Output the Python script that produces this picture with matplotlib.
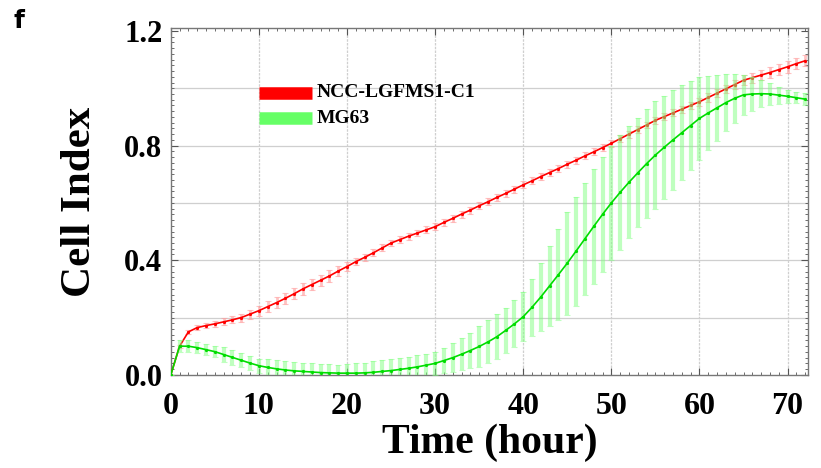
import matplotlib
matplotlib.use("Agg")
import matplotlib.pyplot as plt
import numpy as np
from matplotlib.ticker import MultipleLocator

hours = list(range(0, 73))

red_ci = [0.0, 0.10, 0.15, 0.165, 0.172, 0.178, 0.185, 0.192, 0.200, 0.212,
          0.224, 0.238, 0.252, 0.267, 0.283, 0.300, 0.315, 0.330, 0.345, 0.362,
          0.378, 0.395, 0.410, 0.426, 0.443, 0.460, 0.472, 0.484, 0.495, 0.506,
          0.517, 0.532, 0.546, 0.561, 0.575, 0.590, 0.604, 0.619, 0.633, 0.648,
          0.663, 0.677, 0.692, 0.706, 0.720, 0.735, 0.749, 0.764, 0.778, 0.793,
          0.808, 0.824, 0.840, 0.856, 0.872, 0.888, 0.901, 0.914, 0.927, 0.940,
          0.953, 0.968, 0.983, 0.998, 1.013, 1.028, 1.037, 1.046, 1.055, 1.065,
          1.075, 1.086, 1.096]
red_err = [0.0, 0.005, 0.008, 0.01, 0.01, 0.01, 0.012, 0.012, 0.014, 0.016,
           0.018, 0.02, 0.02, 0.02, 0.02, 0.02, 0.02, 0.02, 0.02, 0.018,
           0.015, 0.012, 0.012, 0.012, 0.012, 0.012, 0.012, 0.012, 0.012, 0.012,
           0.012, 0.012, 0.012, 0.012, 0.012, 0.012, 0.012, 0.012, 0.012, 0.012,
           0.012, 0.012, 0.012, 0.012, 0.012, 0.012, 0.012, 0.012, 0.012, 0.012,
           0.012, 0.012, 0.012, 0.012, 0.012, 0.012, 0.012, 0.012, 0.012, 0.012,
           0.014, 0.015, 0.015, 0.015, 0.016, 0.017, 0.018, 0.018, 0.019, 0.02,
           0.02, 0.02, 0.02]

green_ci = [0.0, 0.100, 0.100, 0.095, 0.088, 0.081, 0.071, 0.061, 0.051, 0.041,
            0.032, 0.026, 0.021, 0.017, 0.014, 0.012, 0.010, 0.008, 0.007, 0.006,
            0.006, 0.006, 0.007, 0.009, 0.012, 0.015, 0.019, 0.023, 0.028, 0.034,
            0.040, 0.050, 0.060, 0.072, 0.085, 0.099, 0.115, 0.133, 0.155, 0.178,
            0.203, 0.236, 0.272, 0.311, 0.350, 0.390, 0.432, 0.475, 0.518, 0.560,
            0.600, 0.637, 0.672, 0.705, 0.737, 0.767, 0.794, 0.820, 0.845, 0.870,
            0.895, 0.914, 0.932, 0.950, 0.965, 0.977, 0.980, 0.981, 0.980, 0.976,
            0.972, 0.967, 0.962]
green_err = [0.0, 0.02, 0.02, 0.02, 0.02, 0.02, 0.025, 0.025, 0.025, 0.025,
             0.025, 0.03, 0.03, 0.03, 0.03, 0.03, 0.03, 0.03, 0.03, 0.03,
             0.032, 0.035, 0.035, 0.038, 0.04, 0.04, 0.04, 0.04, 0.04, 0.04,
             0.04, 0.045, 0.05, 0.055, 0.062, 0.07, 0.075, 0.078, 0.08, 0.082,
             0.085, 0.10, 0.12, 0.14, 0.16, 0.18, 0.19, 0.195, 0.2, 0.2,
             0.2, 0.2, 0.195, 0.19, 0.19, 0.19, 0.18, 0.175, 0.165, 0.155,
             0.145, 0.13, 0.115, 0.10, 0.085, 0.07, 0.058, 0.047, 0.037, 0.03,
             0.022, 0.02, 0.02]

series_labels = ["NCC-LGFMS1-C1", "MG63"]
xticks = [0, 10, 20, 30, 40, 50, 60, 70]
yticks = [0.0, 0.4, 0.8, 1.2]

serif = ["Liberation Serif", "DejaVu Serif"]

fig = plt.figure(figsize=(8.21, 4.68), dpi=100)
ax = fig.add_axes([0.208, 0.199, 0.776, 0.741])

# grid
for gx in range(10, 80, 10):
    ax.axvline(gx, color="#cfcfcf", lw=0.9, ls=(0, (2, 1)), zorder=0)
for gy in np.arange(0.2, 1.2, 0.2):
    ax.axhline(gy, color="#cfcfcf", lw=0.9, zorder=0)

ax.errorbar(hours, red_ci, yerr=red_err, fmt="none", ecolor="#ff9a9a",
            elinewidth=2.0, capsize=2.5, capthick=0.8, alpha=0.6, zorder=2)
ax.plot(hours, red_ci, color="#ff0000", lw=1.2, marker="o", ms=1.3, zorder=3)
ax.errorbar(hours, green_ci, yerr=green_err, fmt="none", ecolor="#80ff80",
            elinewidth=3.0, capsize=2.5, capthick=0.8, alpha=0.5, zorder=4)
ax.plot(hours, green_ci, color="#00dd00", lw=1.2, marker="o", ms=1.3, zorder=5)

# legend
ax.plot([10.0, 16.0], [0.985, 0.985], color="#ff0000", lw=9, solid_capstyle="butt", zorder=6)
ax.plot([10.0, 16.0], [0.895, 0.895], color="#66ff66", lw=9, solid_capstyle="butt", zorder=6)
ax.text(16.6, 0.985, series_labels[0], family=serif, fontweight="bold",
        fontsize=14, va="center", ha="left", zorder=7)
ax.text(16.6, 0.895, series_labels[1], family=serif, fontweight="bold",
        fontsize=14, va="center", ha="left", zorder=7)

ax.set_xlim(0, 72.3)
ax.set_ylim(0, 1.21)
ax.set_xticks(xticks)
ax.set_yticks(yticks)
ax.set_xticklabels([str(v) for v in xticks], family=serif, fontweight="bold", fontsize=23)
ax.set_yticklabels([f"{v:.1f}" for v in yticks], family=serif, fontweight="bold", fontsize=22)
ax.xaxis.set_minor_locator(MultipleLocator(1))
ax.yaxis.set_minor_locator(MultipleLocator(0.02))
ax.tick_params(which="both", direction="in", top=True, right=True, color="#555555")
ax.tick_params(which="major", length=5, width=0.8)
ax.tick_params(axis="x", which="major", pad=12)
ax.tick_params(axis="y", which="major", pad=6)
ax.tick_params(which="minor", length=2.5, width=0.6)
for s in ax.spines.values():
    s.set_color("#777777")
    s.set_linewidth(1.0)

ax.set_xlabel("Time (hour)", family=serif, fontweight="bold", fontsize=30, labelpad=2)
ax.set_ylabel("Cell Index", family=serif, fontweight="bold", fontsize=31, labelpad=18)

fig.text(0.017, 0.955, "f", family=["DejaVu Sans"], fontweight="bold", fontsize=18,
         va="center", ha="left")

fig.savefig("out.png", dpi=100)
